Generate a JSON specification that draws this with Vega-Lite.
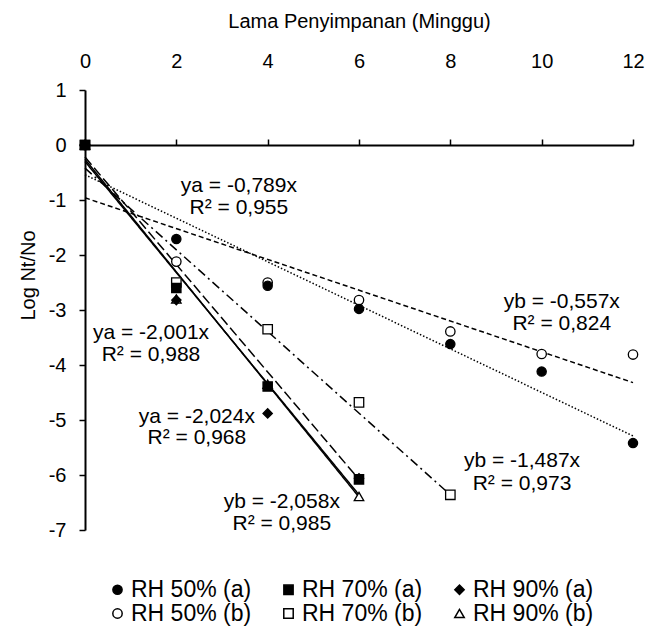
{
  "$schema": "https://vega.github.io/schema/vega-lite/v6.json",
  "width": 548,
  "height": 440,
  "autosize": {"type": "none"},
  "padding": {"left": 85, "top": 90, "right": 26, "bottom": 97},
  "background": "white",
  "config": {
    "font": "Liberation Sans",
    "view": {"stroke": null},
    "axis": {
      "grid": false,
      "labelFont": "Liberation Sans",
      "titleFont": "Liberation Sans",
      "labelColor": "black",
      "titleColor": "black",
      "domainColor": "black",
      "tickColor": "black",
      "labelFontSize": 20,
      "titleFontSize": 20,
      "titleFontWeight": "normal",
      "labelFlush": false
    },
    "legend": {
      "labelFont": "Liberation Sans",
      "labelFontSize": 23,
      "labelColor": "black"
    }
  },
  "datasets": {
    "pts": [
      {"series": "RH 50% (b)", "x": 0, "y": 0},
      {"series": "RH 50% (b)", "x": 2, "y": -2.12},
      {"series": "RH 50% (b)", "x": 4, "y": -2.5},
      {"series": "RH 50% (b)", "x": 6, "y": -2.82},
      {"series": "RH 50% (b)", "x": 8, "y": -3.39},
      {"series": "RH 50% (b)", "x": 10, "y": -3.8},
      {"series": "RH 50% (b)", "x": 12, "y": -3.81},
      {"series": "RH 70% (b)", "x": 0, "y": 0},
      {"series": "RH 70% (b)", "x": 2, "y": -2.5},
      {"series": "RH 70% (b)", "x": 4, "y": -3.35},
      {"series": "RH 70% (b)", "x": 6, "y": -4.68},
      {"series": "RH 70% (b)", "x": 8, "y": -6.36},
      {"series": "RH 90% (b)", "x": 0, "y": 0},
      {"series": "RH 90% (b)", "x": 2, "y": -2.8},
      {"series": "RH 90% (b)", "x": 4, "y": -4.35},
      {"series": "RH 90% (b)", "x": 6, "y": -6.39},
      {"series": "RH 50% (a)", "x": 0, "y": 0},
      {"series": "RH 50% (a)", "x": 2, "y": -1.71},
      {"series": "RH 50% (a)", "x": 4, "y": -2.56},
      {"series": "RH 50% (a)", "x": 6, "y": -2.98},
      {"series": "RH 50% (a)", "x": 8, "y": -3.62},
      {"series": "RH 50% (a)", "x": 10, "y": -4.12},
      {"series": "RH 50% (a)", "x": 12, "y": -5.42},
      {"series": "RH 70% (a)", "x": 0, "y": 0},
      {"series": "RH 70% (a)", "x": 2, "y": -2.6},
      {"series": "RH 70% (a)", "x": 4, "y": -4.39},
      {"series": "RH 70% (a)", "x": 6, "y": -6.08},
      {"series": "RH 90% (a)", "x": 0, "y": 0},
      {"series": "RH 90% (a)", "x": 2, "y": -2.82},
      {"series": "RH 90% (a)", "x": 4, "y": -4.88},
      {"series": "RH 90% (a)", "x": 6, "y": -6.06}
    ],
    "trend": [
      {"series": "RH 50% (a)", "x": 0, "y": -0.54},
      {"series": "RH 50% (a)", "x": 12, "y": -5.29},
      {"series": "RH 50% (b)", "x": 0, "y": -0.96},
      {"series": "RH 50% (b)", "x": 12, "y": -4.32},
      {"series": "RH 70% (b)", "x": 0, "y": -0.42},
      {"series": "RH 70% (b)", "x": 8, "y": -6.36},
      {"series": "RH 70% (a)", "x": 0, "y": -0.22},
      {"series": "RH 70% (a)", "x": 6, "y": -6.08},
      {"series": "RH 90% (a)", "x": 0, "y": -0.3},
      {"series": "RH 90% (a)", "x": 6, "y": -6.36},
      {"series": "RH 90% (b)", "x": 0, "y": -0.26},
      {"series": "RH 90% (b)", "x": 6, "y": -6.4}
    ],
    "labels": [
      {"x": 3.37, "y": -0.745, "text": "ya = -0,789x"},
      {"x": 3.37, "y": -1.145, "text": "R² = 0,955"},
      {"x": 1.445, "y": -3.42, "text": "ya = -2,001x"},
      {"x": 1.445, "y": -3.82, "text": "R² = 0,988"},
      {"x": 2.45, "y": -4.95, "text": "ya = -2,024x"},
      {"x": 2.45, "y": -5.33, "text": "R² = 0,968"},
      {"x": 4.31, "y": -6.49, "text": "yb = -2,058x"},
      {"x": 4.31, "y": -6.89, "text": "R² = 0,985"},
      {"x": 10.44, "y": -2.85, "text": "yb = -0,557x"},
      {"x": 10.44, "y": -3.25, "text": "R² = 0,824"},
      {"x": 9.57, "y": -5.75, "text": "yb = -1,487x"},
      {"x": 9.57, "y": -6.16, "text": "R² = 0,973"}
    ]
  },
  "encoding": {
    "y": {
      "field": "y",
      "type": "quantitative",
      "scale": {"domain": [-7, 1], "nice": false, "zero": false},
      "axis": {
        "orient": "left",
        "values": [1, 0, -1, -2, -3, -4, -5, -6, -7],
        "labelExpr": "'' + datum.value",
        "tickSize": 6,
        "tickWidth": 1.5,
        "domainWidth": 2,
        "labelPadding": 13,
        "title": "Log Nt/No",
        "titleX": -57,
        "titleY": 185,
        "titleBaseline": "middle",
        "titleAlign": "center"
      }
    }
  },
  "layer": [
    {
      "data": {"name": "trend"},
      "mark": {"type": "line", "color": "black", "strokeWidth": 1.5},
      "encoding": {
        "x": {
          "field": "x",
          "type": "quantitative",
          "scale": {"domain": [0, 12], "nice": false, "zero": false},
          "axis": {
            "orient": "top",
            "values": [0, 2, 4, 6, 8, 10, 12],
            "domain": false,
            "ticks": false,
            "tickSize": 0,
            "labelPadding": 19,
            "title": "Lama Penyimpanan (Minggu)",
            "titleX": 274,
            "titleY": -69,
            "titleBaseline": "middle",
            "titleAlign": "center"
          }
        },
        "detail": {"field": "series"},
        "strokeDash": {
          "field": "series",
          "type": "nominal",
          "scale": {
            "domain": ["RH 50% (a)", "RH 50% (b)", "RH 70% (b)", "RH 70% (a)", "RH 90% (a)", "RH 90% (b)"],
            "range": [[1.5, 2], [5, 3], [9, 4, 2, 4], [10, 4], [1, 0], [1, 0]]
          },
          "legend": null
        }
      }
    },
    {
      "data": {"name": "pts"},
      "mark": {"type": "point", "filled": true, "stroke": "black", "strokeWidth": 1.3, "opacity": 1},
      "encoding": {
        "x": {
          "field": "x",
          "type": "quantitative",
          "scale": {"domain": [0, 12], "nice": false, "zero": false},
          "axis": {
            "orient": "top",
            "values": [0, 2, 4, 6, 8, 10, 12],
            "offset": -55,
            "labels": false,
            "title": null,
            "domain": true,
            "ticks": true,
            "tickSize": 6,
            "tickWidth": 1.5,
            "domainWidth": 2
          }
        },
        "shape": {
          "field": "series",
          "type": "nominal",
          "scale": {
            "domain": ["RH 50% (a)", "RH 70% (a)", "RH 90% (a)", "RH 50% (b)", "RH 70% (b)", "RH 90% (b)"],
            "range": ["circle", "square", "diamond", "circle", "square", "triangle-up"]
          },
          "legend": {
            "title": null,
            "orient": "none",
            "legendX": 21,
            "legendY": 488,
            "columns": 3,
            "direction": "horizontal",
            "gridAlign": "all",
            "columnPadding": 25,
            "rowPadding": 0,
            "labelOffset": 2,
            "padding": 0,
            "encode": {
              "symbols": {"update": {"size": {"value": 45}, "stroke": {"value": "black"}, "strokeWidth": {"value": 1.2}}}
            }
          }
        },
        "fill": {
          "field": "series",
          "type": "nominal",
          "scale": {
            "domain": ["RH 50% (a)", "RH 70% (a)", "RH 90% (a)", "RH 50% (b)", "RH 70% (b)", "RH 90% (b)"],
            "range": ["black", "black", "black", "white", "white", "white"]
          }
        },
        "size": {
          "field": "series",
          "type": "nominal",
          "scale": {
            "domain": ["RH 50% (a)", "RH 70% (a)", "RH 90% (a)", "RH 50% (b)", "RH 70% (b)", "RH 90% (b)"],
            "range": [85, 90, 45, 55, 65, 70]
          }
        }
      }
    },
    {
      "data": {"name": "labels"},
      "mark": {"type": "text", "font": "Liberation Sans", "fontSize": 21, "color": "black", "align": "center", "baseline": "middle"},
      "encoding": {
        "x": {"field": "x", "type": "quantitative", "scale": {"domain": [0, 12], "nice": false, "zero": false}, "axis": null},
        "text": {"field": "text", "type": "nominal"}
      }
    }
  ],
  "resolve": {"axis": {"x": "independent"}}
}
